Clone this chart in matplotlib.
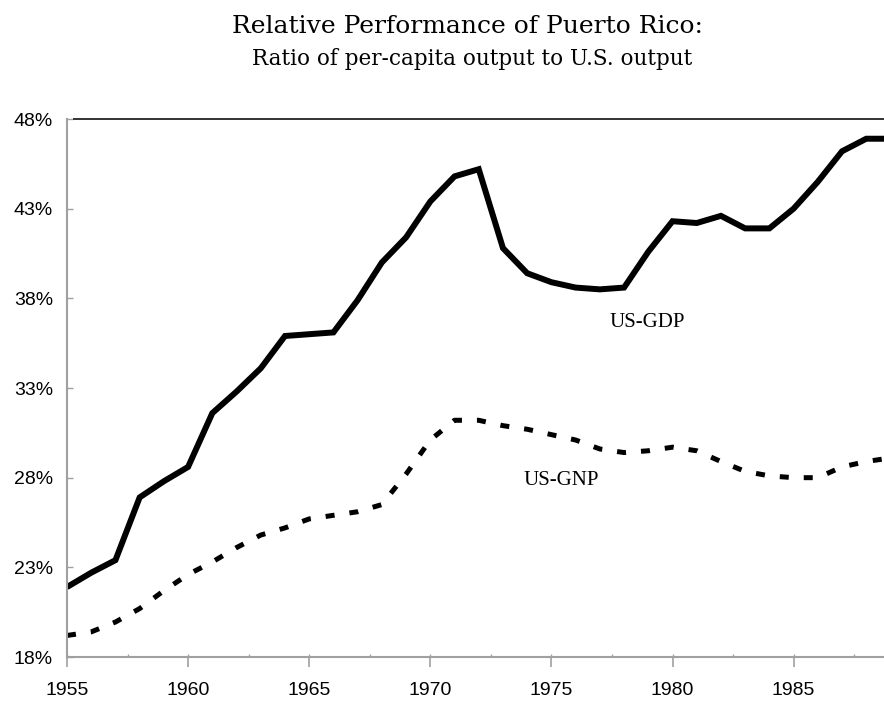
import matplotlib
matplotlib.use("Agg")
import matplotlib.pyplot as plt
from matplotlib.ticker import MultipleLocator, FuncFormatter

years = list(range(1955, 1990))
us_gdp = [21.9, 22.7, 23.4, 26.9, 27.8, 28.6, 31.6, 32.8, 34.1, 35.9,
          36.0, 36.1, 37.9, 40.0, 41.4, 43.4, 44.8, 45.2, 40.8, 39.4,
          38.9, 38.6, 38.5, 38.6, 40.6, 42.3, 42.2, 42.6, 41.9, 41.9,
          43.0, 44.5, 46.2, 46.9, 46.9]
us_gnp = [19.2, 19.4, 19.95, 20.7, 21.7, 22.6, 23.3, 24.1, 24.8, 25.2,
          25.7, 25.9, 26.1, 26.5, 28.2, 30.1, 31.2, 31.2, 30.9, 30.7,
          30.4, 30.1, 29.6, 29.4, 29.5, 29.7, 29.5, 28.9, 28.35, 28.1,
          28.0, 28.0, 28.6, 28.9, 29.1]
y_ticks = [18, 23, 28, 33, 38, 43, 48]
x_ticks = [1955, 1960, 1965, 1970, 1975, 1980, 1985]

title = "Relative Performance of Puerto Rico:"
subtitle = "Ratio of per-capita output to U.S. output"

W, H = 884, 702
fig = plt.figure(figsize=(W / 100, H / 100), dpi=100)
ax = fig.add_axes([67 / W, 45 / H, 817 / W, 538 / H])

ax.plot(years, us_gdp, color="black", lw=4.3, solid_joinstyle="miter", solid_capstyle="butt")
ax.plot(years, us_gnp, color="black", lw=3.6, dashes=(1.8, 3.0), dash_capstyle="butt")

ax.set_xlim(1955, 1955 + 817 / 24.22)
ax.set_ylim(18, 48)

ax.set_yticks(y_ticks)
ax.yaxis.set_major_formatter(FuncFormatter(lambda v, p: f"{v:.0f}%"))
ax.set_xticks(x_ticks)
ax.xaxis.set_minor_locator(MultipleLocator(2.5))
ax.xaxis.remove_overlapping_locs = False

gray = "#a0a0a0"
for s in ["left", "bottom"]:
    ax.spines[s].set_color(gray)
    ax.spines[s].set_linewidth(1.5)
ax.spines["right"].set_visible(False)
ax.spines["top"].set_visible(False)
ax.axhline(48, xmin=7 / 817, xmax=1, color="#333333", lw=1.4, clip_on=False)

tickfont = "Liberation Sans"
ax.tick_params(axis="y", which="major", direction="in", length=4.3, width=1, color=gray,
               pad=10, labelsize=14, labelcolor="black")
ax.tick_params(axis="x", which="major", direction="out", length=7.2, width=1.2, color=gray,
               pad=11, labelsize=14, labelcolor="black")
ax.tick_params(axis="x", which="minor", direction="in", length=2.5, width=1, color=gray)
for lab in ax.get_xticklabels() + ax.get_yticklabels():
    lab.set_fontfamily(tickfont)

serif = "Liberation Serif"
ax.text(1978.95, 36.4, "US-GDP", ha="center", va="baseline", fontsize=15, family=serif)
ax.text(1975.4, 27.6, "US-GNP", ha="center", va="baseline", fontsize=15, family=serif)

fig.text(467 / W, 1 - 33 / H, title, ha="center", va="baseline", fontsize=18, family="DejaVu Serif")
fig.text(472 / W, 1 - 65 / H, subtitle, ha="center", va="baseline", fontsize=15.5, family="DejaVu Serif")

fig.savefig("out.png", dpi=100)
